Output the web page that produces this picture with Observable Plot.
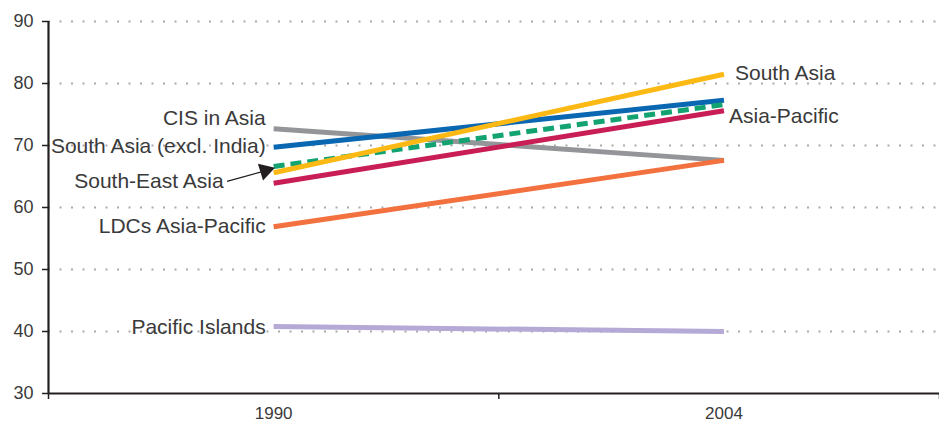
<!DOCTYPE html>
<html>
<head>
<meta charset="utf-8">
<script src="https://cdn.jsdelivr.net/npm/d3@7"></script>
<script src="https://cdn.jsdelivr.net/npm/@observablehq/plot@0.6"></script>
<style>
  html, body { margin: 0; padding: 0; background: #fff; }
  svg { display: block; }
</style>
</head>
<body>
<div id="chart"></div>
<script>
// ---- data ----
const years = [1990, 2004];
const seriesNames = ["CIS in Asia", "South Asia (excl. India)", "South-East Asia", "South Asia", "Asia-Pacific", "LDCs Asia-Pacific", "Pacific Islands"];
const values1990 = [72.7, 69.7, 66.6, 65.6, 63.9, 56.9, 40.8];
const values2004 = [67.6, 77.3, 76.6, 81.5, 75.6, 67.6, 40.0];
const seriesColors = ["#939598", "#0a67b2", "#13a371", "#fdb913", "#c91d55", "#f3703f", "#b5a9d6"];
const dashedSeries = ["South-East Asia"];
const drawOrder = ["CIS in Asia", "South Asia (excl. India)", "Asia-Pacific", "South-East Asia", "South Asia", "LDCs Asia-Pacific", "Pacific Islands"];

const yTicks = [30, 40, 50, 60, 70, 80, 90];
const xTickLabels = [1990, 2004];
const xBandEdges = [1983, 1997, 2010.7];

// label anchors (year, value) for series names
const leftLabels = ["CIS in Asia", "South Asia (excl. India)", "LDCs Asia-Pacific", "Pacific Islands"];
const leftLabelValues = [74.4, 69.8, 56.9, 40.7];
const rightLabels = ["South Asia", "Asia-Pacific"];
const rightLabelValues = [81.7, 74.7];
const arrowLabel = "South-East Asia";
const arrowLabelValue = 64.3;
const arrowFrom = {year: 1988.55, value: 64.2};
const arrowTo = {year: 1989.62, value: 65.75};
const arrowTip = {year: 1989.74, value: 65.95};

// ---- build ----
const rows = [];
seriesNames.forEach((s, i) => {
  rows.push({series: s, year: years[0], value: values1990[i]});
  rows.push({series: s, year: years[1], value: values2004[i]});
});
const colorOf = Object.fromEntries(seriesNames.map((s, i) => [s, seriesColors[i]]));

const font = "Liberation Sans, Arial, Helvetica, sans-serif";
const labelSize = 21;
const textColor = "#3a3a3a";

const lineMarks = drawOrder.map(s => Plot.line(rows.filter(r => r.series === s), {
  x: "year", y: "value",
  stroke: colorOf[s], strokeWidth: 5, strokeLinecap: "butt",
  strokeDasharray: dashedSeries.includes(s) ? "11,6" : null
}));

const plot = Plot.plot({
  width: 939,
  height: 427,
  marginLeft: 48,
  marginRight: 0,
  marginTop: 21,
  marginBottom: 34,
  style: {fontFamily: font, fontSize: "17px", color: textColor, background: "#fff"},
  x: {domain: [xBandEdges[0], xBandEdges[2]]},
  y: {domain: [30, 90]},
  marks: [
    Plot.ruleY(yTicks.filter(t => t > 30), {stroke: "#aaa", strokeWidth: 2.2, strokeDasharray: "2,9.5"}),
    Plot.axisY({ticks: yTicks, tickSize: 6, tickFormat: () => "", label: null, stroke: "#231f20", strokeWidth: 1.5}),
    Plot.text(yTicks, {x: () => xBandEdges[0], y: d => d, text: d => String(d), textAnchor: "end", dx: -15, fontSize: 18, fill: textColor, fontFamily: font}),
    Plot.axisX({ticks: xBandEdges, tickSize: 6, tickFormat: () => "", label: null, stroke: "#231f20", strokeWidth: 1.5}),
    Plot.text(xTickLabels, {x: d => d, y: () => 30, text: d => String(d), dy: 20, fontSize: 17, fill: textColor, fontFamily: font}),
    ...lineMarks,
    Plot.ruleY([30], {stroke: "#231f20", strokeWidth: 2.2}),
    Plot.ruleX([xBandEdges[0]], {y1: 30, y2: 90, stroke: "#231f20", strokeWidth: 2.2}),
    Plot.text(leftLabels, {
      x: () => years[0], y: (d, i) => leftLabelValues[i], text: d => d,
      textAnchor: "end", dx: -8, fontSize: labelSize, fill: textColor, fontFamily: font
    }),
    Plot.text(rightLabels.slice(0, 1), {
      x: () => years[1], y: () => rightLabelValues[0], text: d => d,
      textAnchor: "start", dx: 11, fontSize: labelSize, fill: textColor, fontFamily: font
    }),
    Plot.text(rightLabels.slice(1), {
      x: () => years[1], y: () => rightLabelValues[1], text: d => d,
      textAnchor: "start", dx: 5, fontSize: labelSize, fill: textColor, fontFamily: font
    }),
    Plot.text([arrowLabel], {
      x: () => years[0], y: () => arrowLabelValue, text: d => d,
      textAnchor: "end", dx: -50, fontSize: labelSize, fill: textColor, fontFamily: font
    }),
    Plot.link([arrowFrom], {x1: "year", y1: "value", x2: () => arrowTo.year, y2: () => arrowTo.value, stroke: "#231f20", strokeWidth: 1.3}),
    Plot.dot([arrowTip], {x: "year", y: "value", symbol: "triangle", r: 6.5, fill: "#231f20", stroke: null, rotate: 73})
  ]
});
document.getElementById("chart").appendChild(plot);
</script>
</body>
</html>
